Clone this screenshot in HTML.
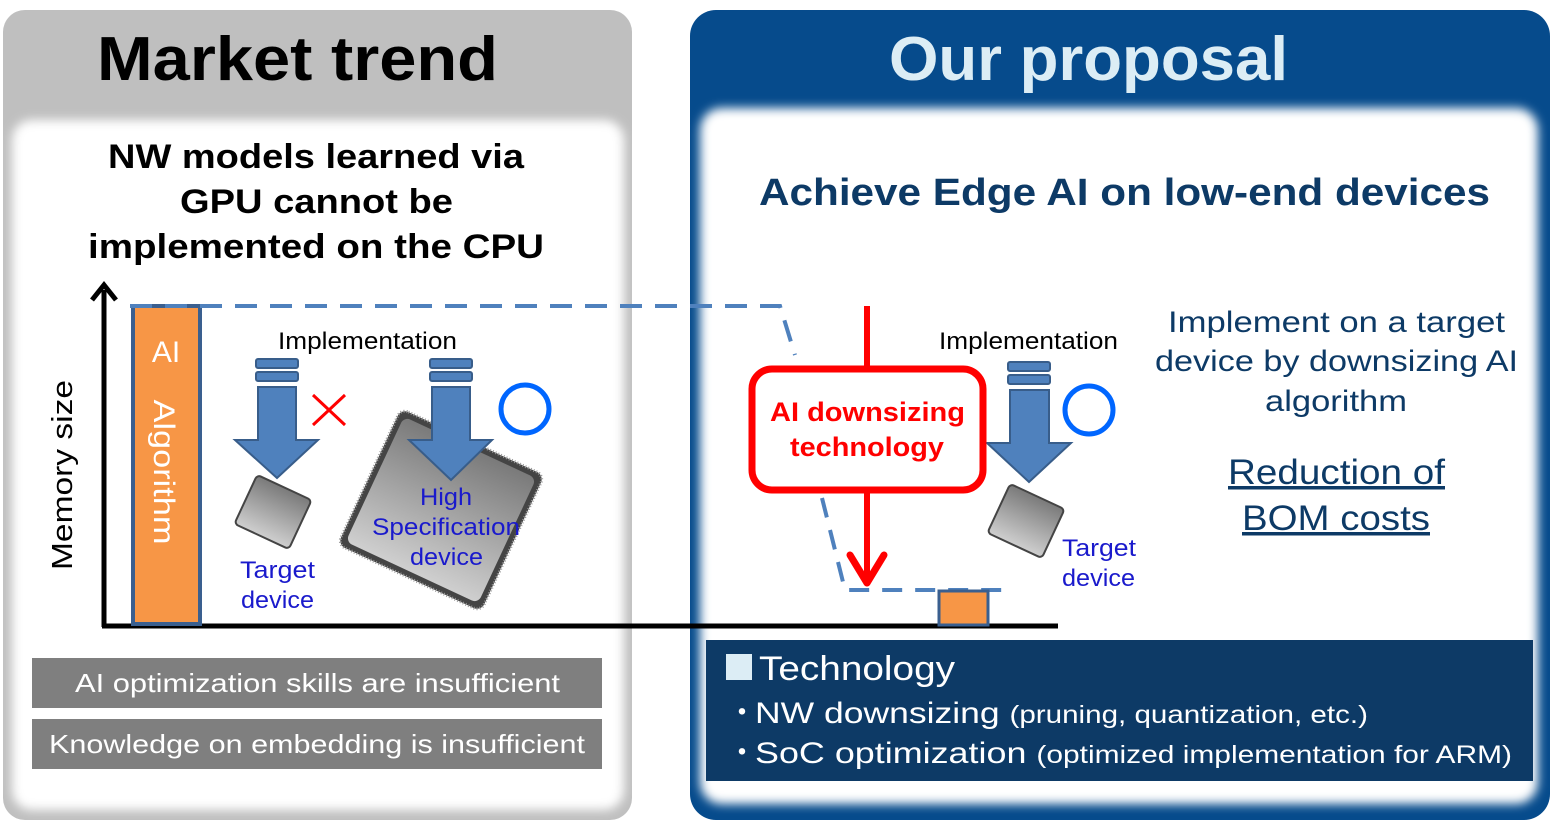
<!DOCTYPE html>
<html><head><meta charset="utf-8"><style>
html,body{margin:0;padding:0;background:#fff;}
svg{display:block;font-family:"Liberation Sans","Noto Sans CJK JP",sans-serif;}
</style></head><body>
<svg width="1552" height="823" viewBox="0 0 1552 823" xmlns="http://www.w3.org/2000/svg">
<defs>
<filter id="b" x="-5%" y="-5%" width="110%" height="110%"><feGaussianBlur stdDeviation="5"/></filter>
<linearGradient id="chip" x1="0" y1="0" x2="0" y2="1"><stop offset="0" stop-color="#7a7a7a"/><stop offset="1" stop-color="#cfcfcf"/></linearGradient>
</defs>
<!-- left panel -->
<rect x="3" y="10" width="629" height="810" rx="22" fill="#bfbfbf"/>
<rect x="12" y="120" width="612" height="690" rx="20" fill="#fff" filter="url(#b)"/>
<text x="97" y="80" font-size="62" font-weight="bold" textLength="401" lengthAdjust="spacingAndGlyphs" fill="#000">Market trend</text>
<g font-size="34" font-weight="bold" fill="#000">
<text x="108" y="168" textLength="416" lengthAdjust="spacingAndGlyphs">NW models learned via</text>
<text x="180" y="213" textLength="273" lengthAdjust="spacingAndGlyphs">GPU cannot be</text>
<text x="88" y="258" textLength="456" lengthAdjust="spacingAndGlyphs">implemented on the CPU</text>
</g>
<!-- right panel -->
<rect x="690" y="10" width="860" height="810" rx="26" fill="#064b8c"/>
<rect x="700" y="108" width="838" height="696" rx="22" fill="#fff" filter="url(#b)"/>
<text x="889" y="80" font-size="62" font-weight="bold" textLength="399" lengthAdjust="spacingAndGlyphs" fill="#dcedf5">Our proposal</text>
<text x="759" y="205" font-size="38" font-weight="bold" textLength="731" lengthAdjust="spacingAndGlyphs" fill="#0d3a66">Achieve Edge AI on low-end devices</text>
<g font-size="30" fill="#0d3a66">
<text x="1168" y="332" textLength="337" lengthAdjust="spacingAndGlyphs">Implement on a target</text>
<text x="1155" y="371" textLength="363" lengthAdjust="spacingAndGlyphs">device by downsizing AI</text>
<text x="1265" y="411" textLength="142" lengthAdjust="spacingAndGlyphs">algorithm</text>
<text x="1228" y="484" font-size="35" text-decoration="underline" textLength="217" lengthAdjust="spacingAndGlyphs">Reduction of</text>
<text x="1242" y="530" font-size="35" text-decoration="underline" textLength="188" lengthAdjust="spacingAndGlyphs">BOM costs</text>
</g>
<!-- axes -->
<line x1="104" y1="290" x2="104" y2="627" stroke="#000" stroke-width="5"/>
<polyline points="92,300 104,285 116,300" fill="none" stroke="#000" stroke-width="5"/>
<line x1="102" y1="626" x2="1058" y2="626" stroke="#000" stroke-width="5"/>
<text transform="translate(72,475) rotate(-90)" font-size="29" text-anchor="middle" textLength="190" lengthAdjust="spacingAndGlyphs" fill="#000">Memory size</text>
<!-- algorithm bar -->
<rect x="133" y="306" width="67" height="318" fill="#f79646" stroke="#3a5f8f" stroke-width="4"/>
<text x="166" y="362" font-size="30" text-anchor="middle" fill="#fff">AI</text>
<text transform="translate(154,472) rotate(90)" font-size="30" text-anchor="middle" textLength="145" lengthAdjust="spacingAndGlyphs" fill="#fff">Algorithm</text>
<!-- dashed line -->
<polyline points="130,306 780,306 795,355" fill="none" stroke="#4f81bd" stroke-width="4" stroke-dasharray="22,13"/>
<polyline points="822,498 845,590 1012,590" fill="none" stroke="#4f81bd" stroke-width="4" stroke-dasharray="20,13"/>
<rect x="939" y="591" width="49" height="34" fill="#f79646" stroke="#3a5f8f" stroke-width="3"/>
<!-- implementation labels -->
<text x="278" y="349" font-size="24" textLength="179" lengthAdjust="spacingAndGlyphs" fill="#000">Implementation</text>
<text x="939" y="349" font-size="24" textLength="179" lengthAdjust="spacingAndGlyphs" fill="#000">Implementation</text>
<!-- big chip -->
<g transform="translate(441,510) rotate(25)">
<rect x="-79" y="-75" width="158" height="150" rx="8" fill="#444" stroke="#999" stroke-width="3" stroke-dasharray="1,2"/>
<rect x="-73" y="-69" width="146" height="138" rx="7" fill="url(#chip)"/>
</g>
<!-- small chips -->
<g transform="translate(273,512) rotate(25)"><rect x="-30" y="-27" width="60" height="54" rx="4" fill="url(#chip)" stroke="#444" stroke-width="2"/></g>
<g transform="translate(1026,521) rotate(25)"><rect x="-30" y="-27" width="60" height="54" rx="4" fill="url(#chip)" stroke="#444" stroke-width="2"/></g>
<!-- blue arrows -->
<g fill="#4f81bd" stroke="#385d8a" stroke-width="2">
<rect x="256" y="359" width="42" height="9" rx="2"/><rect x="256" y="372" width="42" height="9" rx="2"/>
<polygon points="258,387 296,387 296,440 318,440 277,478 235,440 258,440"/>
<rect x="430" y="359" width="42" height="9" rx="2"/><rect x="430" y="372" width="42" height="9" rx="2"/>
<polygon points="432,387 470,387 470,440 492,440 451,480 409,440 432,440"/>
<rect x="1008" y="362" width="42" height="9" rx="2"/><rect x="1008" y="375" width="42" height="9" rx="2"/>
<polygon points="1010,390 1049,390 1049,443 1071,443 1029,482 987,443 1010,443"/>
</g>
<!-- x and circles -->
<path d="M313,395 L345,425 M345,395 L313,425" stroke="#ff0000" stroke-width="3"/>
<circle cx="525" cy="409" r="24" fill="none" stroke="#0066ff" stroke-width="5"/>
<circle cx="1089" cy="410" r="24" fill="none" stroke="#0066ff" stroke-width="5"/>
<!-- device labels -->
<g font-size="24" fill="#1a1acc">
<text x="240" y="578" textLength="75" lengthAdjust="spacingAndGlyphs">Target</text><text x="241" y="608" textLength="73" lengthAdjust="spacingAndGlyphs">device</text>
<text x="420" y="505" textLength="52" lengthAdjust="spacingAndGlyphs">High</text><text x="372" y="535" textLength="148" lengthAdjust="spacingAndGlyphs">Specification</text><text x="410" y="565" textLength="73" lengthAdjust="spacingAndGlyphs">device</text>
<text x="1062" y="556" textLength="74" lengthAdjust="spacingAndGlyphs">Target</text><text x="1062" y="586" textLength="73" lengthAdjust="spacingAndGlyphs">device</text>
</g>
<!-- red box -->
<line x1="867" y1="306" x2="867" y2="370" stroke="#ff0000" stroke-width="6"/>
<line x1="867" y1="490" x2="867" y2="585" stroke="#ff0000" stroke-width="6"/>
<polyline points="850,555 867,583 884,555" fill="none" stroke="#ff0000" stroke-width="7" stroke-linecap="round" stroke-linejoin="round"/>
<rect x="752" y="369" width="231" height="121" rx="20" fill="#fff" stroke="#ff0000" stroke-width="7"/>
<g font-size="27" font-weight="bold" fill="#ff0000">
<text x="770" y="421" textLength="195" lengthAdjust="spacingAndGlyphs">AI downsizing</text><text x="790" y="456" textLength="154" lengthAdjust="spacingAndGlyphs">technology</text>
</g>
<!-- gray boxes -->
<rect x="32" y="658" width="570" height="50" fill="#7f7f7f"/>
<rect x="32" y="719" width="570" height="50" fill="#7f7f7f"/>
<g font-size="26" fill="#fff">
<text x="75" y="692" textLength="485" lengthAdjust="spacingAndGlyphs">AI optimization skills are insufficient</text>
<text x="49" y="753" textLength="536" lengthAdjust="spacingAndGlyphs">Knowledge on embedding is insufficient</text>
</g>
<!-- technology box -->
<rect x="706" y="640" width="827" height="141" fill="#0d3a66"/>
<rect x="726" y="654" width="26" height="26" fill="#dcedf5"/>
<g fill="#fff">
<text x="759" y="680" font-size="34" textLength="196" lengthAdjust="spacingAndGlyphs">Technology</text>
<text x="727" y="723" font-size="30">・</text>
<text x="755" y="723" font-size="30" textLength="613" lengthAdjust="spacingAndGlyphs">NW downsizing <tspan font-size="25">(pruning, quantization, etc.)</tspan></text>
<text x="727" y="763" font-size="30">・</text>
<text x="755" y="763" font-size="30" textLength="757" lengthAdjust="spacingAndGlyphs">SoC optimization <tspan font-size="25">(optimized implementation for ARM)</tspan></text>
</g>
</svg>
</body></html>
